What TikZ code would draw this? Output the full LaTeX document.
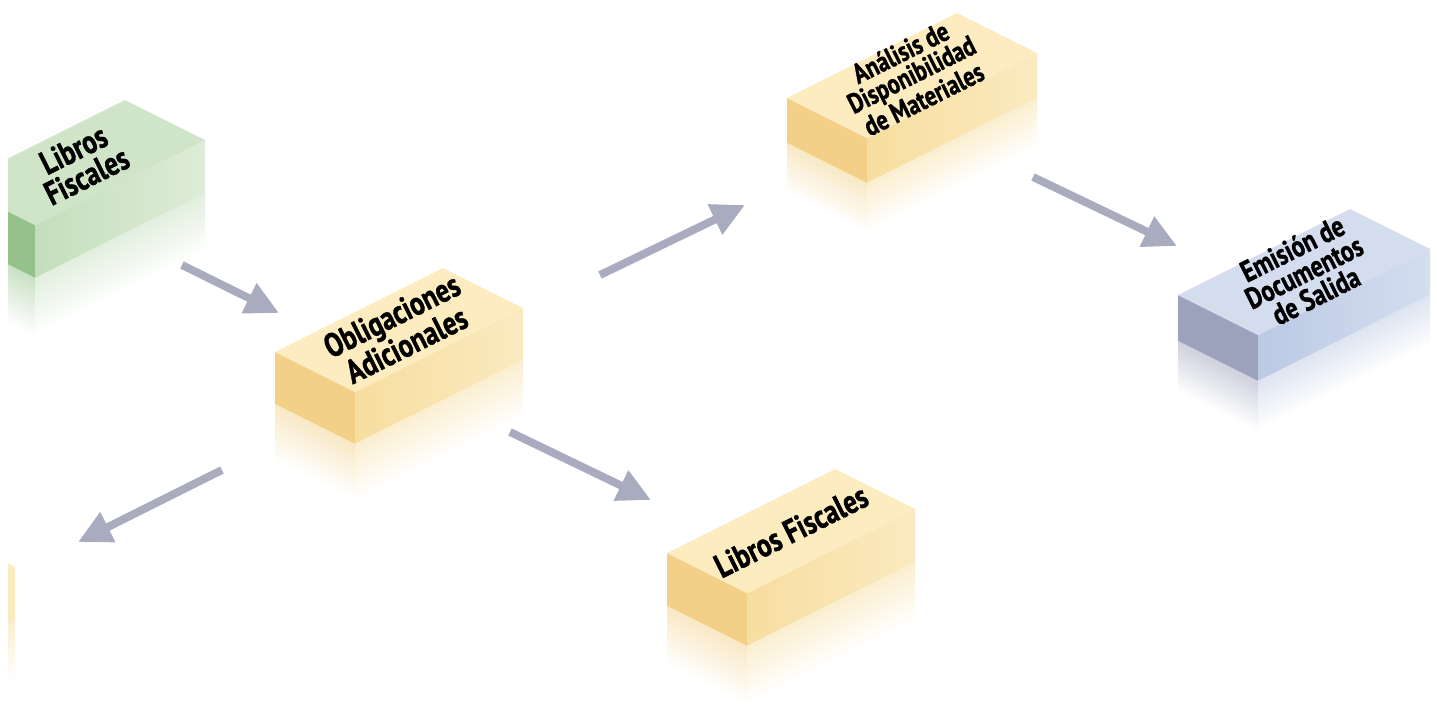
\documentclass[tikz,border=0pt]{standalone}
\usepackage{fontspec}
\usepackage{xcolor}
\usepackage{tikz}
\usetikzlibrary{arrows.meta}
\newfontfamily\brickfont[FakeStretch=0.8,FakeBold=1.2]{PT Sans}
\definecolor{ortop}{RGB}{252,236,192}
\definecolor{orleft}{RGB}{242,208,136}
\definecolor{orright}{RGB}{247,222,160}
\definecolor{orrightb}{RGB}{251,234,192}
\definecolor{grtop}{RGB}{208,228,200}
\definecolor{grleft}{RGB}{148,194,138}
\definecolor{grright}{RGB}{196,222,188}
\definecolor{grrightb}{RGB}{222,236,216}
\definecolor{bltop}{RGB}{212,221,238}
\definecolor{blleft}{RGB}{156,162,188}
\definecolor{blright}{RGB}{188,201,228}
\definecolor{blrightb}{RGB}{212,222,240}
\definecolor{arrowgray}{RGB}{168,172,190}
\newcommand{\brick}[8]{%
  \begin{scope}[transform canvas={shift={(#2,#3)},yslant=-0.5}]
    \fill[#6left] (-80,0) rectangle (0,#5);
    \shade[top color=#6left!50!white, bottom color=white] (-80,#5) rectangle (0,2.1*#5);
  \end{scope}
  \begin{scope}[transform canvas={shift={(#2,#3)},yslant=0.5}]
    \shade[left color=#6right, right color=#6rightb] (0,0) rectangle (#4,#5);
    \shade[top color=#6right!50!white, bottom color=white] (0,#5) rectangle (#4,2.1*#5);
  \end{scope}
  \fill[#6top] (#2,#3) -- ++(-80,-40) -- ++(#4,-#4/2) -- ++(80,40) -- cycle;
  \node[brick text, font=\brickfont\bfseries\fontsize{#7}{\dimexpr#7pt*88/100\relax}\selectfont] (#1) at (#2+#4/2-40,#3-#4/4-20) {#8};
}

\begin{document}
\begin{tikzpicture}[x=0.02cm, y=-0.02cm,
  brick text/.style={text=black, align=center, rotate=26.57, inner sep=0pt},
  link/.style={draw=arrowgray, line width=4.5pt, -{Triangle[length=19pt,width=18pt]}}]
\useasboundingbox (0,0) rectangle (1437,711);
\clip (8,0) rectangle (1437,711);

\brick{LF1}{35}{225}{170}{53}{gr}{19}{Libros\\Fiscales}
\brick{OA}{355}{392}{168}{52}{or}{19}{Obligaciones\\Adicionales}
\brick{ADM}{867}{138}{170}{45}{or}{16}{Análisis de\\Disponibilidad\\de Materiales}
\brick{EDS}{1258}{335}{172}{46}{bl}{17}{Emisión de\\Documentos\\de Salida}
\brick{LF2}{747}{593}{168}{53}{or}{19}{Libros Fiscales}
\brick{X}{-155}{652}{170}{53}{or}{12}{}

\coordinate (LF1o) at (182,265);
\coordinate (OAi) at (279,313);
\coordinate (OAo1) at (600,275);
\coordinate (ADMi) at (745,205);
\coordinate (ADMo) at (1033,177);
\coordinate (EDSi) at (1177,246);
\coordinate (OAo2) at (510,432);
\coordinate (LF2i) at (651,500);
\coordinate (OAo3) at (222,470);
\coordinate (Xi) at (78,542);

\draw[link] (LF1o) -- (OAi);
\draw[link] (OAo1) -- (ADMi);
\draw[link] (ADMo) -- (EDSi);
\draw[link] (OAo2) -- (LF2i);
\draw[link] (OAo3) -- (Xi);
\end{tikzpicture}
\end{document}
